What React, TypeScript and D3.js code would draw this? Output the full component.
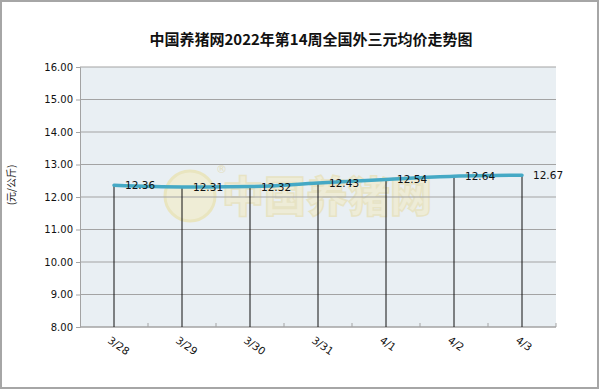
import { useEffect, useRef } from 'react';
import * as d3 from 'd3';

const categories = ['3/28', '3/29', '3/30', '3/31', '4/1', '4/2', '4/3'];
const prices = [12.36, 12.31, 12.32, 12.43, 12.54, 12.64, 12.67];
const yTicks = [8, 9, 10, 11, 12, 13, 14, 15, 16];

const W = 600;
const H = 390;
const M = { top: 67, right: 44, bottom: 63, left: 80 };
const TEXT_FONT = '"DejaVu Sans", Verdana, sans-serif';
const CJK_FONT = '"Noto Sans CJK SC", sans-serif';

export default function App() {
  const svgRef = useRef<SVGSVGElement | null>(null);

  useEffect(() => {
    if (!svgRef.current) return;
    const svg = d3.select(svgRef.current);
    svg.selectAll('*').remove();

    const x = d3.scaleBand<string>().domain(categories).range([M.left, W - M.right]).padding(0);
    const y = d3.scaleLinear().domain([8, 16]).range([H - M.bottom, M.top]);
    const cx = (c: string) => (x(c) ?? 0) + x.bandwidth() / 2;

    // outer frame
    svg.append('rect')
      .attr('x', 1).attr('y', 1).attr('width', W - 3).attr('height', H - 3)
      .attr('fill', '#fff').attr('stroke', '#a6a6a6').attr('stroke-width', 2);

    // title
    svg.append('text')
      .attr('x', 311).attr('y', 45)
      .attr('text-anchor', 'middle')
      .attr('font-family', CJK_FONT)
      .attr('font-size', 15).attr('font-weight', 700)
      .attr('fill', '#111')
      .text('中国养猪网2022年第14周全国外三元均价走势图');

    // plot background
    svg.append('rect')
      .attr('x', M.left).attr('y', M.top)
      .attr('width', W - M.left - M.right).attr('height', H - M.top - M.bottom)
      .attr('fill', '#e9eff3');

    // watermark
    const wm = svg.append('g').attr('opacity', 0.6);
    wm.append('circle').attr('cx', 190).attr('cy', 196).attr('r', 25)
      .attr('fill', '#f3edc4').attr('stroke', '#eadf9e').attr('stroke-width', 3);
    wm.append('text').attr('x', 216).attr('y', 173)
      .attr('font-size', 11).attr('fill', '#e0d49a').attr('font-family', TEXT_FONT).text('®');
    wm.append('text').attr('x', 222).attr('y', 212)
      .attr('font-family', CJK_FONT).attr('font-size', 42).attr('font-weight', 900)
      .attr('fill', '#f2ebc6').attr('stroke', '#e6dca6').attr('stroke-width', 1.5)
      .text('中国养猪网');

    // gridlines
    svg.append('g').selectAll('line').data(yTicks.slice(1)).join('line')
      .attr('x1', M.left).attr('x2', W - M.right)
      .attr('y1', (d) => y(d)).attr('y2', (d) => y(d))
      .attr('stroke', '#a3a3a3').attr('stroke-width', 1);

    // y axis
    const yAxis = svg.append('g')
      .attr('transform', `translate(${M.left},0)`)
      .call(d3.axisLeft(y).tickValues(yTicks).tickFormat(d3.format('.2f')).tickSize(4).tickPadding(3));
    yAxis.select('.domain').attr('stroke', '#a3a3a3');
    yAxis.selectAll('.tick line').attr('stroke', '#a3a3a3');
    yAxis.selectAll('text').attr('font-family', TEXT_FONT).attr('font-size', 10).attr('fill', '#111');

    // x axis
    const boundaries = categories.map((c) => x(c) ?? 0).concat([W - M.right]).slice(1);
    svg.append('line')
      .attr('x1', M.left).attr('x2', W - M.right)
      .attr('y1', y(8)).attr('y2', y(8))
      .attr('stroke', '#a3a3a3').attr('stroke-width', 1.5);
    svg.append('g').selectAll('line').data(boundaries).join('line')
      .attr('x1', (d) => d).attr('x2', (d) => d)
      .attr('y1', y(8)).attr('y2', y(8) - 4)
      .attr('stroke', '#a3a3a3');
    svg.append('g').selectAll('text').data(categories).join('text')
      .attr('transform', (d) => `translate(${cx(d) - 7},${y(8) + 15}) rotate(35)`)
      .attr('font-family', TEXT_FONT).attr('font-size', 10.5).attr('fill', '#111')
      .text((d) => d);

    // y label
    svg.append('text')
      .attr('transform', `translate(15,185) rotate(-90)`)
      .attr('text-anchor', 'middle')
      .attr('font-family', CJK_FONT).attr('font-size', 10).attr('fill', '#222')
      .text('(元/公斤)');

    // drop lines
    svg.append('g').selectAll('line').data(categories).join('line')
      .attr('x1', (d) => cx(d)).attr('x2', (d) => cx(d))
      .attr('y1', (_d, i) => y(prices[i])).attr('y2', y(8))
      .attr('stroke', '#111').attr('stroke-width', 1);

    // price line
    const line = d3.line<number>()
      .x((_d, i) => cx(categories[i]))
      .y((d) => y(d))
      .curve(d3.curveMonotoneX);
    svg.append('path')
      .datum(prices)
      .attr('d', line)
      .attr('fill', 'none')
      .attr('stroke', '#45a9c5')
      .attr('stroke-width', 3.5)
      .attr('stroke-linecap', 'round');

    // labels
    svg.append('g').selectAll('text').data(prices).join('text')
      .attr('x', (_d, i) => cx(categories[i]) + 11)
      .attr('y', (d) => y(d) + 4)
      .attr('font-family', TEXT_FONT).attr('font-size', 10.5).attr('fill', '#111')
      .text((d) => d.toFixed(2));
  }, []);

  return (
    <svg
      ref={svgRef}
      width={W}
      height={H}
      style={{ position: 'absolute', left: 0, top: 0, background: '#fff' }}
    />
  );
}
